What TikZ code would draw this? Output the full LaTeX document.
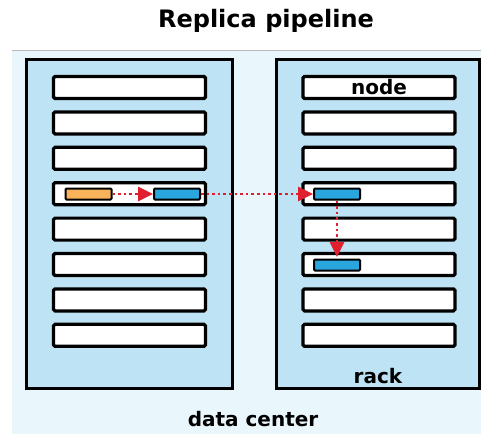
\documentclass[tikz,border=0pt]{standalone}
\usepackage{fontspec}
\setmainfont{DejaVu Sans}
\usetikzlibrary{arrows.meta}
\definecolor{bgc}{HTML}{E9F6FC}
\definecolor{rackc}{HTML}{BEE3F5}
\definecolor{orangec}{HTML}{F9B35A}
\definecolor{bluec}{HTML}{2AA6DF}
\definecolor{redc}{HTML}{E0202E}
\tikzset{
  rackbox/.style={draw=black, fill=rackc, line width=3pt, minimum width=206pt, minimum height=329pt, inner sep=0pt},
  nodebox/.style={draw=black, fill=white, line width=3.2pt, rounded corners=1.5pt, minimum width=152pt, minimum height=22pt, inner sep=0pt, font=\fontsize{20}{24}\selectfont\bfseries},
  blk/.style={draw=black, line width=2pt, rounded corners=1pt, minimum width=46pt, minimum height=11pt, inner sep=0pt},
  flow/.style={draw=redc, line width=2.6pt, dash pattern=on 2.6pt off 3pt, -{Triangle[length=15pt,width=14pt]}},
  lbl/.style={font=\fontsize{20}{24}\selectfont\bfseries, inner sep=0pt}
}
\begin{document}
\begin{tikzpicture}[x=1pt,y=-1pt]
\useasboundingbox (0,0) rectangle (481,434);
\fill[white] (0,0) rectangle (481,434);
\fill[bgc] (12,50) rectangle (481,434);
\draw[gray!55, line width=1pt] (12,50) -- (481,50);
\node[lbl, font=\fontsize{24}{28}\selectfont\bfseries] (title) at (266,21) {Replica pipeline};
\node[rackbox] (lrack) at (129.5,224) {};
\node[rackbox, minimum width=203pt] (rrack) at (377.5,224) {};
\foreach \i [evaluate=\i as \yy using 87.5+35.4*(\i-1)] in {1,...,8} {
  \node[nodebox] (l\i) at (129.5,\yy) {};
}
\node[nodebox] (r1) at (379,87.5) {node};
\foreach \i [evaluate=\i as \yy using 87.5+35.4*(\i-1)] in {2,...,8} {
  \node[nodebox] (r\i) at (379,\yy) {};
}
\node[blk, fill=orangec] (o1) at (88.5,194) {};
\node[blk, fill=bluec] (b1) at (177,194) {};
\node[blk, fill=bluec] (b2) at (337,194) {};
\node[blk, fill=bluec] (b3) at (337,265) {};
\draw[flow] (o1.east) -- (b1.west);
\draw[flow] (b1.east) -- (b2.west);
\draw[flow, shorten >=1.5pt] (b2.south) -- (b3.north);
\node[lbl] (rack) at (378,376) {rack};
\node[lbl] (dc) at (253,419) {data center};
\end{tikzpicture}
\end{document}
